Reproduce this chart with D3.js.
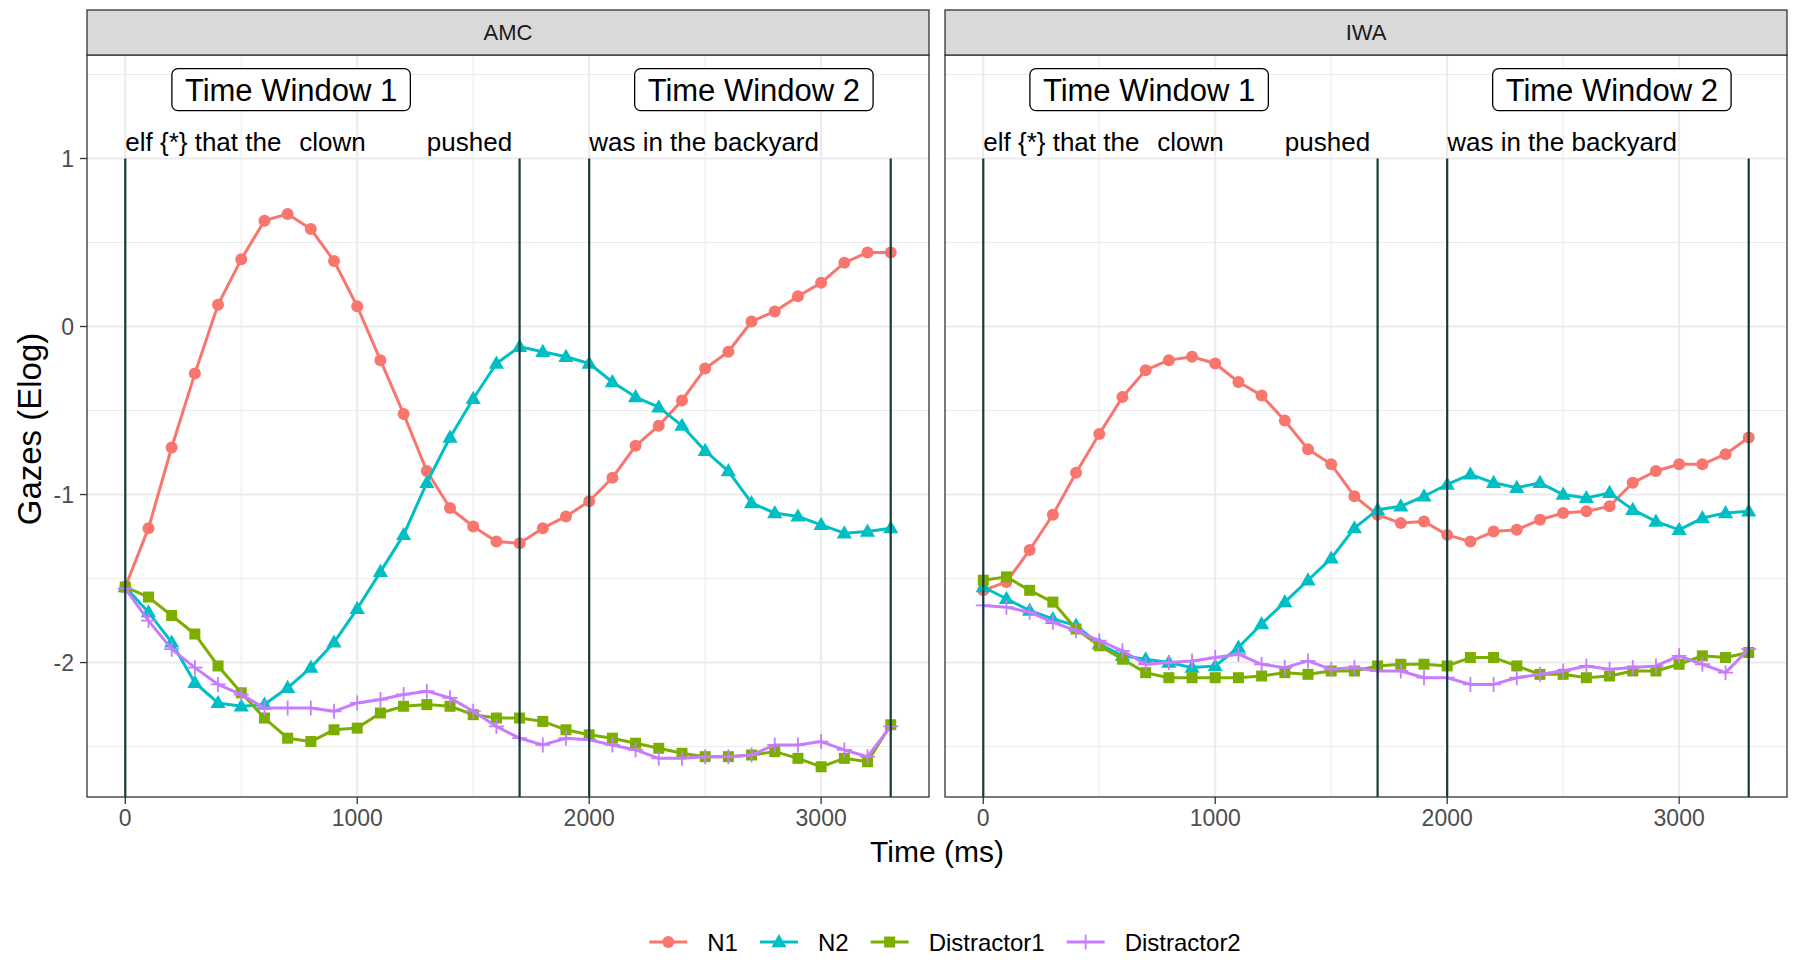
<!DOCTYPE html>
<html>
<head>
<meta charset="utf-8">
<script src="https://cdn.jsdelivr.net/npm/d3@7"></script>
<style>
    html, body { margin: 0; padding: 0; background: #fff; }
    svg { display: block; font-family: "Liberation Sans", Arial, Helvetica, sans-serif; }
</style>
</head>
<body>
<div id="chart"></div>
<script>
// 时间点 (ms)
const TIMES = [0, 100, 200, 300, 400, 500, 600, 700, 800, 900, 1000, 1100, 1200, 1300, 1400, 1500, 1600,
    1700, 1800, 1900, 2000, 2100, 2200, 2300, 2400, 2500, 2600, 2700, 2800, 2900, 3000, 3100, 3200, 3300];

const SERIES = ['N1', 'N2', 'Distractor1', 'Distractor2'];
const PANELS = ['AMC', 'IWA'];

// AMC
const amcN1 = [-1.55, -1.20, -0.72, -0.28, 0.13, 0.40, 0.63, 0.67, 0.58, 0.39, 0.12, -0.20, -0.52, -0.86, -1.08, -1.19, -1.28,
    -1.29, -1.20, -1.13, -1.04, -0.90, -0.71, -0.59, -0.44, -0.25, -0.15, 0.03, 0.09, 0.18, 0.26, 0.38, 0.44, 0.44];
const amcN2 = [-1.55, -1.70, -1.88, -2.12, -2.24, -2.26, -2.25, -2.15, -2.03, -1.88, -1.68, -1.46, -1.24, -0.93, -0.66, -0.43, -0.22,
    -0.12, -0.15, -0.18, -0.22, -0.33, -0.42, -0.48, -0.59, -0.74, -0.86, -1.05, -1.11, -1.13, -1.18, -1.23, -1.22, -1.20];
const amcD1 = [-1.55, -1.61, -1.72, -1.83, -2.02, -2.18, -2.33, -2.45, -2.47, -2.40, -2.39, -2.30, -2.26, -2.25, -2.26, -2.31, -2.33,
    -2.33, -2.35, -2.40, -2.43, -2.45, -2.48, -2.51, -2.54, -2.56, -2.56, -2.55, -2.53, -2.57, -2.62, -2.57, -2.59, -2.37];
const amcD2 = [-1.56, -1.75, -1.92, -2.03, -2.13, -2.19, -2.27, -2.27, -2.27, -2.29, -2.24, -2.22, -2.19, -2.17, -2.21, -2.29, -2.38,
    -2.45, -2.49, -2.45, -2.46, -2.49, -2.52, -2.57, -2.57, -2.56, -2.56, -2.55, -2.49, -2.49, -2.47, -2.52, -2.56, -2.38];

// IWA
const iwaN1 = [-1.57, -1.52, -1.33, -1.12, -0.87, -0.64, -0.42, -0.26, -0.20, -0.18, -0.22, -0.33, -0.41, -0.56, -0.73, -0.82, -1.01,
    -1.12, -1.17, -1.16, -1.24, -1.28, -1.22, -1.21, -1.15, -1.11, -1.10, -1.07, -0.93, -0.86, -0.82, -0.82, -0.76, -0.66];
const iwaN2 = [-1.55, -1.62, -1.69, -1.74, -1.78, -1.89, -1.96, -1.98, -2.00, -2.03, -2.02, -1.91, -1.77, -1.64, -1.51, -1.38, -1.20,
    -1.09, -1.07, -1.01, -0.94, -0.88, -0.93, -0.96, -0.93, -1.00, -1.02, -0.99, -1.09, -1.16, -1.21, -1.14, -1.11, -1.10];
const iwaD1 = [-1.51, -1.49, -1.57, -1.64, -1.80, -1.90, -1.98, -2.06, -2.09, -2.09, -2.09, -2.09, -2.08, -2.06, -2.07, -2.05, -2.05,
    -2.02, -2.01, -2.01, -2.02, -1.97, -1.97, -2.02, -2.07, -2.07, -2.09, -2.08, -2.05, -2.05, -2.01, -1.96, -1.97, -1.94];
const iwaD2 = [-1.66, -1.67, -1.70, -1.76, -1.81, -1.87, -1.93, -2.01, -2.00, -1.99, -1.97, -1.95, -2.01, -2.03, -1.99, -2.04, -2.03,
    -2.05, -2.05, -2.09, -2.09, -2.13, -2.13, -2.09, -2.07, -2.05, -2.02, -2.04, -2.03, -2.02, -1.96, -2.01, -2.06, -1.92];

// 注释
const VLINES = [0, 1700, 2000, 3300];
const WINDOW_LABELS = ['Time Window 1', 'Time Window 2'];
const WINDOW_X = [715, 2710];
const WINDOW_Y = 1.41;
const WORDS = ['elf {*} that the', 'clown', 'pushed', 'was in the backyard'];
const WORD_X = [0, 750, 1300, 2000];
const WORD_Y = 1.1;

const X_TICKS = [0, 1000, 2000, 3000];
const X_MINOR = [500, 1500, 2500];
const Y_TICKS = [-2, -1, 0, 1];
const Y_MINOR = [-2.5, -1.5, -0.5, 0.5, 1.5];

const COLORS = { N1: '#F8766D', N2: '#00BFC4', Distractor1: '#7CAE00', Distractor2: '#C77CFF' };
const SHAPES = { N1: 'circle', N2: 'triangle', Distractor1: 'square', Distractor2: 'plus' };

const DATA = {
    AMC: { N1: amcN1, N2: amcN2, Distractor1: amcD1, Distractor2: amcD2 },
    IWA: { N1: iwaN1, N2: iwaN2, Distractor1: iwaD1, Distractor2: iwaD2 }
};

const width = 1800;
const height = 962;
const panelLeft = [87, 945];
const panelW = 842;
const stripTop = 10;
const panelTop = 55;
const panelBottom = 797;

const svg = d3.select('#chart').append('svg')
    .attr('width', width)
    .attr('height', height);

const y = d3.scaleLinear().domain([-2.80, 1.616]).range([panelBottom, panelTop]);

function drawShape(g, shape, color, cx, cy) {
    if (shape === 'circle') {
        g.append('circle').attr('cx', cx).attr('cy', cy).attr('r', 6).attr('fill', color);
    } else if (shape === 'triangle') {
        const s = 8;
        g.append('path')
            .attr('d', `M${cx},${cy - s} L${cx + s * 0.95},${cy + s * 0.65} L${cx - s * 0.95},${cy + s * 0.65} Z`)
            .attr('fill', color);
    } else if (shape === 'square') {
        g.append('rect').attr('x', cx - 5.5).attr('y', cy - 5.5).attr('width', 11).attr('height', 11).attr('fill', color);
    } else {
        g.append('path')
            .attr('d', `M${cx - 7.5},${cy} H${cx + 7.5} M${cx},${cy - 7.5} V${cy + 7.5}`)
            .attr('stroke', color)
            .attr('stroke-width', 1.8)
            .attr('fill', 'none');
    }
}

PANELS.forEach((name, pi) => {
    const x0 = panelLeft[pi];
    const x = d3.scaleLinear().domain([-165, 3465]).range([x0, x0 + panelW]);
    const g = svg.append('g');

    // 背景网格
    g.append('rect').attr('x', x0).attr('y', panelTop).attr('width', panelW).attr('height', panelBottom - panelTop)
        .attr('fill', '#fff');
    g.selectAll('.ymin').data(Y_MINOR).join('line')
        .attr('x1', x0).attr('x2', x0 + panelW)
        .attr('y1', d => y(d)).attr('y2', d => y(d))
        .attr('stroke', '#EBEBEB').attr('stroke-width', 1);
    g.selectAll('.xmin').data(X_MINOR).join('line')
        .attr('x1', d => x(d)).attr('x2', d => x(d))
        .attr('y1', panelTop).attr('y2', panelBottom)
        .attr('stroke', '#EBEBEB').attr('stroke-width', 1);
    g.selectAll('.ymaj').data(Y_TICKS).join('line')
        .attr('x1', x0).attr('x2', x0 + panelW)
        .attr('y1', d => y(d)).attr('y2', d => y(d))
        .attr('stroke', '#EBEBEB').attr('stroke-width', 2);
    g.selectAll('.xmaj').data(X_TICKS).join('line')
        .attr('x1', d => x(d)).attr('x2', d => x(d))
        .attr('y1', panelTop).attr('y2', panelBottom)
        .attr('stroke', '#EBEBEB').attr('stroke-width', 2);

    // 数据线和点
    const line = d3.line().x((d, i) => x(TIMES[i])).y(d => y(d));
    SERIES.forEach(s => {
        const vals = DATA[name][s];
        g.append('path')
            .datum(vals)
            .attr('d', line)
            .attr('fill', 'none')
            .attr('stroke', COLORS[s])
            .attr('stroke-width', 3)
            .attr('stroke-linejoin', 'round');
        const pg = g.append('g');
        vals.forEach((v, i) => drawShape(pg, SHAPES[s], COLORS[s], x(TIMES[i]), y(v)));
    });

    // 竖线
    g.selectAll('.vline').data(VLINES).join('line')
        .attr('x1', d => x(d)).attr('x2', d => x(d))
        .attr('y1', y(1)).attr('y2', panelBottom)
        .attr('stroke', '#173a3a').attr('stroke-width', 2.2);

    // 时间窗标签
    WINDOW_LABELS.forEach((lab, i) => {
        const lg = g.append('g');
        const t = lg.append('text')
            .attr('x', x(WINDOW_X[i])).attr('y', y(WINDOW_Y))
            .attr('text-anchor', 'middle').attr('dy', '0.36em')
            .attr('font-size', 31).attr('fill', '#000')
            .text(lab);
        const tw = t.node().getComputedTextLength();
        lg.insert('rect', 'text')
            .attr('x', x(WINDOW_X[i]) - tw / 2 - 13).attr('y', y(WINDOW_Y) - 21)
            .attr('width', tw + 26).attr('height', 42)
            .attr('rx', 6).attr('fill', '#fff').attr('stroke', '#000').attr('stroke-width', 1.3);
    });

    // 句子词语
    g.selectAll('.word').data(WORDS).join('text')
        .attr('x', (d, i) => x(WORD_X[i])).attr('y', y(WORD_Y))
        .attr('dy', '0.36em')
        .attr('font-size', 26).attr('fill', '#000')
        .text(d => d);

    // 边框
    g.append('rect').attr('x', x0).attr('y', panelTop).attr('width', panelW).attr('height', panelBottom - panelTop)
        .attr('fill', 'none').attr('stroke', '#333').attr('stroke-width', 1.3);

    // 分面标签
    g.append('rect').attr('x', x0).attr('y', stripTop).attr('width', panelW).attr('height', panelTop - stripTop)
        .attr('fill', '#D9D9D9').attr('stroke', '#333').attr('stroke-width', 1.3);
    g.append('text').attr('x', x0 + panelW / 2).attr('y', (stripTop + panelTop) / 2)
        .attr('text-anchor', 'middle').attr('dy', '0.36em')
        .attr('font-size', 22).attr('fill', '#1A1A1A')
        .text(name);

    // x 轴
    g.selectAll('.xtick').data(X_TICKS).join('line')
        .attr('x1', d => x(d)).attr('x2', d => x(d))
        .attr('y1', panelBottom).attr('y2', panelBottom + 7)
        .attr('stroke', '#333').attr('stroke-width', 1.3);
    g.selectAll('.xlab').data(X_TICKS).join('text')
        .attr('x', d => x(d)).attr('y', panelBottom + 12)
        .attr('dy', '0.75em').attr('text-anchor', 'middle')
        .attr('font-size', 23).attr('fill', '#4D4D4D')
        .text(d => d);

    // y 轴（仅左侧）
    if (pi === 0) {
        g.selectAll('.ytick').data(Y_TICKS).join('line')
            .attr('x1', x0 - 7).attr('x2', x0)
            .attr('y1', d => y(d)).attr('y2', d => y(d))
            .attr('stroke', '#333').attr('stroke-width', 1.3);
        g.selectAll('.ylab').data(Y_TICKS).join('text')
            .attr('x', x0 - 13).attr('y', d => y(d))
            .attr('dy', '0.36em').attr('text-anchor', 'end')
            .attr('font-size', 23).attr('fill', '#4D4D4D')
            .text(d => d);
    }
});

// 轴标题
svg.append('text')
    .attr('x', (panelLeft[0] + panelLeft[1] + panelW) / 2).attr('y', 862)
    .attr('text-anchor', 'middle')
    .attr('font-size', 30).attr('fill', '#000')
    .text('Time (ms)');
svg.append('text')
    .attr('transform', `translate(41,${(panelTop + panelBottom) / 2 + 3}) rotate(-90)`)
    .attr('text-anchor', 'middle')
    .attr('font-size', 33).attr('fill', '#000')
    .text('Gazes (Elog)');

// 图例
const legend = svg.append('g');
let lx = 0;
SERIES.forEach(s => {
    const item = legend.append('g').attr('transform', `translate(${lx},0)`);
    item.append('line').attr('x1', 0).attr('x2', 38).attr('y1', 0).attr('y2', 0)
        .attr('stroke', COLORS[s]).attr('stroke-width', 3);
    drawShape(item, SHAPES[s], COLORS[s], 19, 0);
    const t = item.append('text').attr('x', 58).attr('dy', '0.36em')
        .attr('font-size', 24).attr('fill', '#000').text(s);
    lx += 58 + t.node().getComputedTextLength() + 22;
});
lx -= 22;
legend.attr('transform', `translate(${945 - lx / 2},942)`);
</script>
</body>
</html>
